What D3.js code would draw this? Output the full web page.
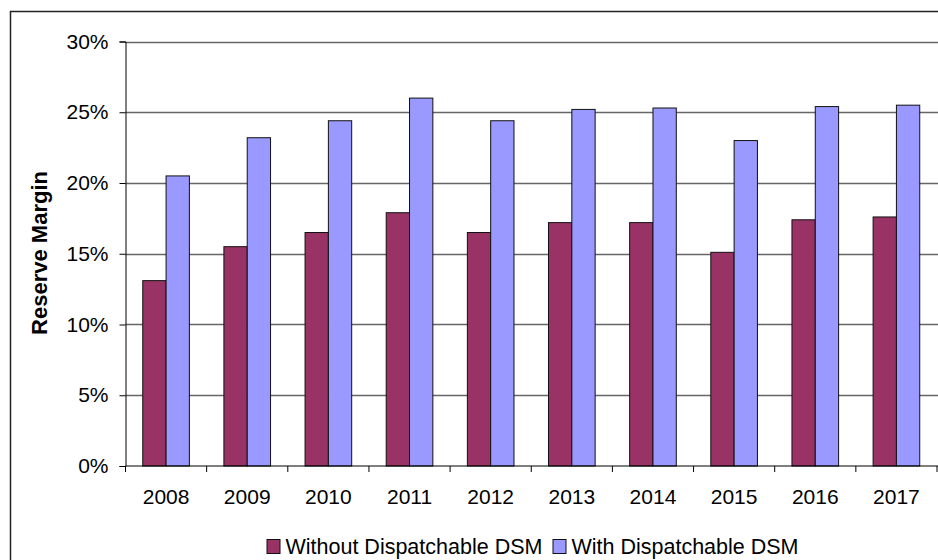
<!DOCTYPE html>
<html>
<head>
<meta charset="utf-8">
<script src="https://cdn.jsdelivr.net/npm/d3@7"></script>
<style>
  html, body { margin: 0; padding: 0; background: #fff; }
  svg { display: block; font-family: "Liberation Sans", Arial, sans-serif; }
</style>
</head>
<body>
<svg id="chart" width="938" height="560"></svg>
<script>
// Reserve margin by year, with and without dispatchable demand-side management
const years = ["2008", "2009", "2010", "2011", "2012", "2013", "2014", "2015", "2016", "2017"];
const seriesNames = ["Without Dispatchable DSM", "With Dispatchable DSM"];
const withoutDSM = [0.131, 0.155, 0.165, 0.179, 0.165, 0.172, 0.172, 0.151, 0.174, 0.176];
const withDSM    = [0.205, 0.232, 0.244, 0.260, 0.244, 0.252, 0.253, 0.230, 0.254, 0.255];
const yTicks = [0, 0.05, 0.10, 0.15, 0.20, 0.25, 0.30];
const colors = ["#993366", "#9999ff"];

const svg = d3.select("#chart");
const plotLeft = 125.5, plotTop = 41.5, plotRight = 937, plotBottom = 466;
const fontFamily = "'Liberation Sans', Arial, sans-serif";

// outer chart frame
svg.append("rect")
  .attr("x", 10.5).attr("y", 11.5)
  .attr("width", 940).attr("height", 560)
  .attr("fill", "none").attr("stroke", "#222").attr("stroke-width", 1.5);

const y = d3.scaleLinear().domain([0, 0.30]).range([plotBottom, plotTop]);
const x0 = d3.scaleBand().domain(years).range([plotLeft, plotRight]).padding(0);
const x1 = d3.scaleBand().domain(seriesNames).range([0, x0.bandwidth()])
  .paddingInner(0).paddingOuter(0.74);

// horizontal gridlines
svg.append("g")
  .selectAll("line")
  .data(yTicks.filter(d => d > 0))
  .join("line")
  .attr("x1", plotLeft).attr("x2", 938)
  .attr("y1", d => Math.round(y(d)) + 0.5).attr("y2", d => Math.round(y(d)) + 0.5)
  .attr("stroke", "#666").attr("stroke-width", 1.3);

// bars
const rows = years.map((yr, i) => ({ year: yr, values: [withoutDSM[i], withDSM[i]] }));
const groups = svg.append("g")
  .selectAll("g")
  .data(rows)
  .join("g")
  .attr("transform", d => `translate(${x0(d.year)},0)`);

groups.selectAll("rect")
  .data(d => d.values.map((v, k) => ({ key: seriesNames[k], k, v })))
  .join("rect")
  .attr("x", d => x1(d.key))
  .attr("y", d => y(d.v))
  .attr("width", x1.bandwidth())
  .attr("height", d => plotBottom - y(d.v))
  .attr("fill", d => colors[d.k])
  .attr("stroke", "#111").attr("stroke-width", 1);

// y axis
const yAxis = svg.append("g")
  .attr("transform", `translate(${plotLeft},0)`)
  .call(d3.axisLeft(y).tickValues(yTicks).tickFormat(d3.format(".0%")).tickSize(6).tickPadding(11));
yAxis.select(".domain").attr("stroke", "#000");
yAxis.selectAll(".tick line").attr("stroke", "#000");
yAxis.selectAll("text").attr("font-size", 21).attr("fill", "#000").style("font-family", fontFamily);

// x axis: labels centred on each year, tick marks on the boundaries
const xAxis = svg.append("g")
  .attr("transform", `translate(0,${plotBottom})`)
  .call(d3.axisBottom(x0).tickSize(0).tickPadding(23));
xAxis.select(".domain").remove();
xAxis.selectAll("text").attr("font-size", 21).attr("fill", "#000").style("font-family", fontFamily);

svg.append("line")
  .attr("x1", plotLeft).attr("x2", 938)
  .attr("y1", plotBottom).attr("y2", plotBottom)
  .attr("stroke", "#000").attr("stroke-width", 1.2);

svg.append("g")
  .selectAll("line")
  .data(years.map(d => x0(d)).concat([x0(years[years.length - 1]) + x0.bandwidth()]))
  .join("line")
  .attr("x1", d => d).attr("x2", d => d)
  .attr("y1", plotBottom).attr("y2", plotBottom + 6)
  .attr("stroke", "#000");

// y axis title
svg.append("text")
  .attr("transform", `translate(47,253) rotate(-90)`)
  .attr("text-anchor", "middle")
  .attr("font-size", 22).attr("font-weight", "bold")
  .text("Reserve Margin");

// legend
const legendItems = [{ name: seriesNames[0], x: 267 }, { name: seriesNames[1], x: 553 }];
const legend = svg.append("g")
  .selectAll("g")
  .data(legendItems)
  .join("g")
  .attr("transform", d => `translate(${d.x},539.5)`);
legend.append("rect")
  .attr("width", 13).attr("height", 14)
  .attr("fill", (d, i) => colors[i])
  .attr("stroke", "#111").attr("stroke-width", 1);
legend.append("text")
  .attr("x", 18.5).attr("y", 14)
  .attr("font-size", 21.5)
  .text(d => d.name);
</script>
</body>
</html>
